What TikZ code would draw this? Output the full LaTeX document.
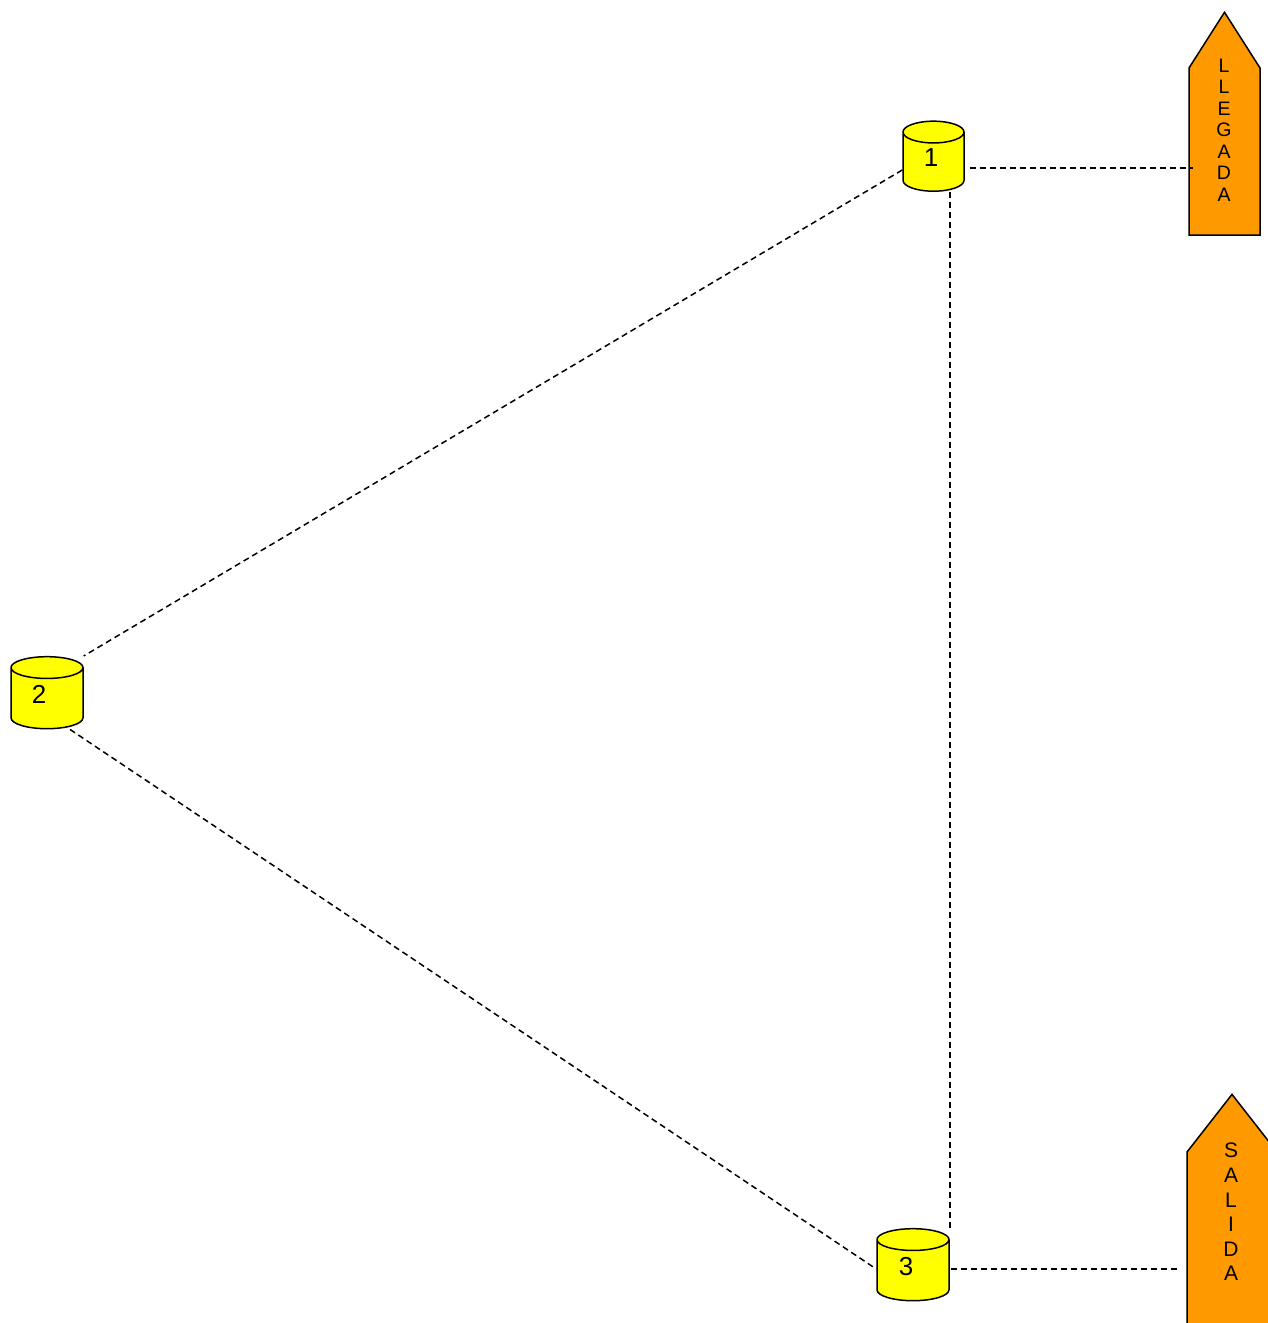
\documentclass[tikz,border=0pt]{standalone}
\usepackage{fontspec}
\setmainfont{Liberation Sans}
\usetikzlibrary{shapes.geometric,shapes.symbols}

\definecolor{tankfill}{HTML}{FFFF00}
\definecolor{gatefill}{HTML}{FF9900}

\begin{document}
\begin{tikzpicture}[x=1pt,y=-1pt,line width=1.5pt]
  \tikzstyle{tank}=[cylinder,shape border rotate=90,draw,fill=tankfill,aspect=1.5,
    minimum width=72pt,minimum height=72pt,inner sep=0pt,
    text width=14.5pt,text height=18.7pt,text depth=0pt]
  \tikzstyle{tanklabel}=[font=\fontsize{26}{26}\selectfont,inner sep=0pt,yshift=4pt]
  \tikzstyle{gate}=[signal,signal to=north,signal from=nowhere,draw,fill=gatefill,inner sep=0pt]
  \tikzstyle{link}=[dash pattern=on 6pt off 4pt]

  \useasboundingbox (0,0) rectangle (1268,1323);

  \node[tank,minimum width=61pt,minimum height=70pt,
        label={[tanklabel,xshift=-2.5pt]center:1}] (c1) at (933.5,162) {};
  \node[tank,label={[tanklabel,xshift=-8pt]center:2}] (c2) at (47,698.5) {};
  \node[tank,label={[tanklabel,xshift=-7pt]center:3}] (c3) at (913,1270.5) {};

  \node[gate,minimum width=71pt,minimum height=167pt,signal pointer angle=65] (llegada) at (1224.5,151.5) {};
  \node[gate,minimum width=90pt,minimum height=188pt,signal pointer angle=76] (salida) at (1232,1246) {};
  \node[align=center,inner sep=0pt,font=\fontsize{19.5}{21.5}\selectfont] (llegadatxt) at (1224,130) {L\\L\\E\\G\\A\\D\\A};
  \node[align=center,inner sep=0pt,font=\fontsize{21}{24.6}\selectfont] (salidatxt) at (1231,1212) {S\\A\\L\\I\\D\\A};

  \draw[link] ([xshift=5pt,yshift=-6pt]c1.east) -- ([xshift=5pt,yshift=-6pt]c1.east -| llegada.west);
  \draw[link] (c1.south -| c3.east) -- (c3.north -| c3.east);
  \draw[link] ([yshift=-8pt]c1.west) -- (c2.north -| c2.east);
  \draw[link] ([xshift=23pt]c2.south) -- ([yshift=1.5pt]c3.west);
  \draw[link,shorten >=7pt] ([xshift=1pt,yshift=1.5pt]c3.east) -- ([xshift=1pt,yshift=1.5pt]c3.east -| salida.west);
\end{tikzpicture}
\end{document}
